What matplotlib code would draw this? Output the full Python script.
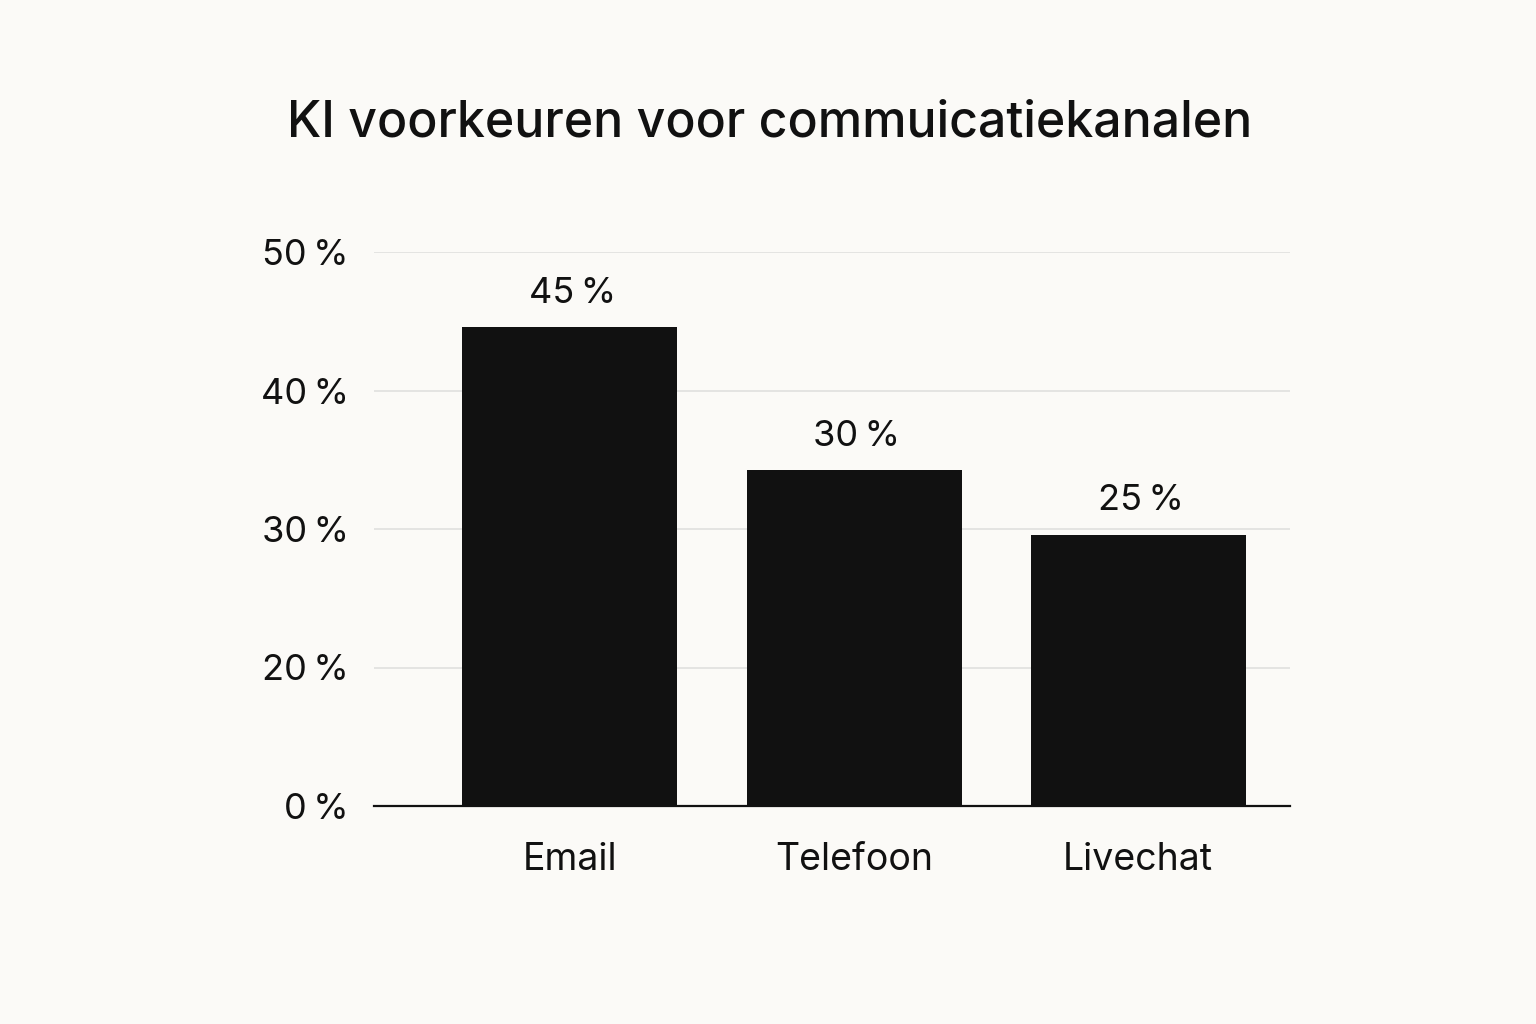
import matplotlib.pyplot as plt

# data
categories = ["Email", "Telefoon", "Livechat"]
bar_heights = [43.2, 30.3, 24.5]          # heights as drawn
bar_labels = ["45\u2009%", "30\u2009%", "25\u2009%"]
tick_pos = [0, 12.5, 25, 37.5, 50]
tick_labels = ["0\u2009%", "20\u2009%", "30\u2009%", "40\u2009%", "50\u2009%"]

plt.rcParams['font.family'] = ['Inter', 'DejaVu Sans']
bg = '#fbfaf7'

fig = plt.figure(figsize=(15.36, 10.24), dpi=100, facecolor=bg)
ax = fig.add_axes([374 / 1536, 1 - 806 / 1024, (1290 - 374) / 1536, (806 - 252) / 1024])
ax.set_facecolor(bg)

x = range(len(categories))
ax.bar(x, bar_heights, width=0.757, color='#111111', zorder=3)
for i, (h, lab) in enumerate(zip(bar_heights, bar_labels)):
    ax.text(i + 0.01, h + 1.6, lab, ha='center', va='bottom', fontsize=26, color='#111111')

ax.set_xlim(-0.69, 2.535)
ax.set_ylim(0, 50)
ax.set_yticks(tick_pos)
ax.set_yticklabels(tick_labels)
ax.set_xticks(list(x))
ax.set_xticklabels(categories)
ax.tick_params(axis='y', length=0, pad=18, labelsize=26, labelcolor='#111111')
ax.tick_params(axis='x', length=0, pad=26, labelsize=27, labelcolor='#111111')
ax.grid(axis='y', color='#e2e2e0', linewidth=1.3, zorder=0)
for s in ['top', 'right', 'left']:
    ax.spines[s].set_visible(False)
ax.spines['bottom'].set_color('#111111')
ax.spines['bottom'].set_linewidth(1.6)
ax.spines['bottom'].set_zorder(4)

fig.text(770 / 1536, 1 - 123 / 1024, "KI voorkeuren voor commuicatiekanalen",
         ha='center', va='center', fontsize=36, fontweight='medium', color='#111111')

fig.savefig('out.png', dpi=100, facecolor=bg)
